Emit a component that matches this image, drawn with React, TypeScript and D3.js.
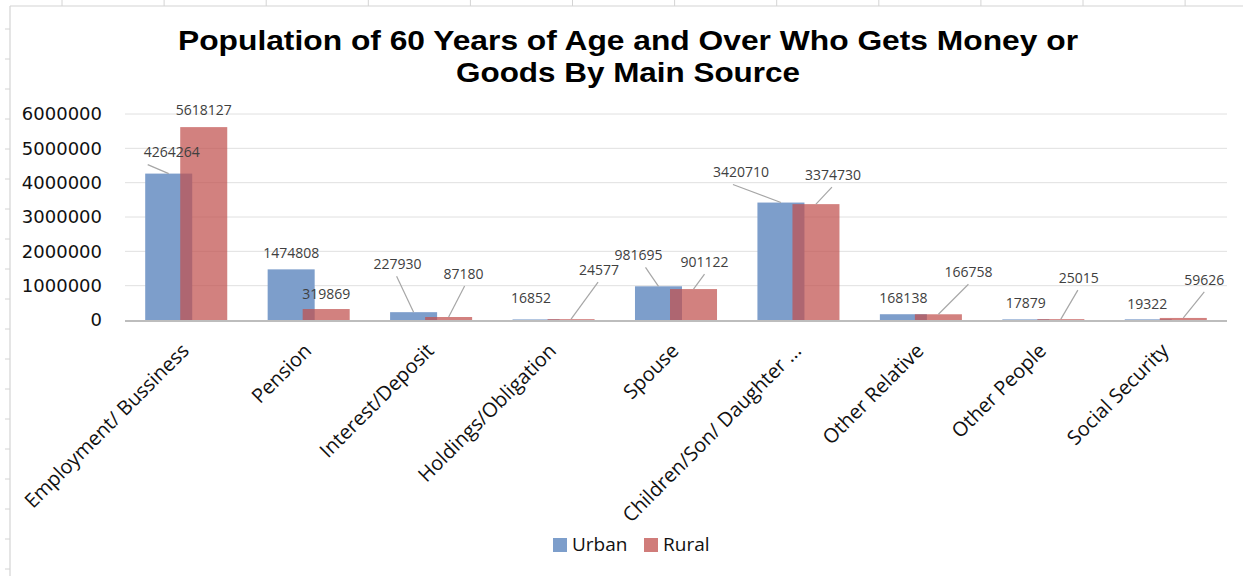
import React from "react";
import * as d3 from "d3";

const categories = [
  "Employment/ Bussiness",
  "Pension",
  "Interest/Deposit",
  "Holdings/Obligation",
  "Spouse",
  "Children/Son/ Daughter ...",
  "Other Relative",
  "Other People",
  "Social Security",
];
const urban = [4264264, 1474808, 227930, 16852, 981695, 3420710, 168138, 17879, 19322];
const rural = [5618127, 319869, 87180, 24577, 901122, 3374730, 166758, 25015, 59626];
const yTicks = [0, 1000000, 2000000, 3000000, 4000000, 5000000, 6000000];
const seriesNames = ["Urban", "Rural"];
const titleLines = [
  "Population of 60 Years of Age and Over Who Gets Money or",
  "Goods By Main Source",
];
// rendered widths of the title lines in the reference (px)
const titleWidths = [900, 344];

// label placement offsets (px) relative to bar top centre: [dx, dy, leaderStartDx | null]
const urbanLabelLayout: [number, number, number | null][] = [
  [3, -21, -24], [0, -16, null], [-16, -48, -1], [-5, -21, null], [-20, -31, 7],
  [-40, -30, -8], [0, -16, null], [0, -16, null], [-1, -15, null],
];
const ruralLabelLayout: [number, number, number | null][] = [
  [0, -17, null], [0, -15, null], [15, -43, 1], [28, -49, -1], [11, -27, 0],
  [17, -29, -1], [30, -42, 0], [18, -41, -1], [21, -38, 0],
];

const W = 1243;
const H = 576;
const colors = ["#7d9ecb", "rgba(192,80,77,0.72)"];
const legendColors = ["#7d9ecb", "#d07c7a"];

export default function App() {
  const x = d3.scaleBand<string>().domain(categories).range([125, 1227]).padding(0);
  const y = d3.scaleLinear().domain([0, 6000000]).range([320, 114]);
  const step = x.step();
  const bw = step * 0.384;
  const off = step * 0.143;

  const frameTopTicks = d3.range(62, W, 102.1);
  const frameLeftTicks = d3.range(29, H, 30);

  const series = [urban, rural];
  const layouts = [urbanLabelLayout, ruralLabelLayout];

  return (
    <svg
      width={W}
      height={H}
      style={{ position: "fixed", left: 0, top: 0, background: "#fff" }}
      fontFamily="'Open Sans', sans-serif"
    >
      <rect x={0} y={0} width={W} height={H} fill="#fff" />
      {/* spreadsheet frame */}
      <line x1={10} x2={W} y1={6} y2={6} stroke="#d4d4d4" strokeWidth={1.2} />
      <line x1={10} x2={10} y1={6} y2={H} stroke="#d4d4d4" strokeWidth={1.2} />
      {frameTopTicks.map((t, i) => (
        <line key={"tt" + i} x1={t} x2={t} y1={0} y2={6} stroke="#d4d4d4" />
      ))}
      {frameLeftTicks.map((t, i) => (
        <line key={"lt" + i} x1={5} x2={10} y1={t} y2={t} stroke="#d4d4d4" />
      ))}

      {/* title */}
      {titleLines.map((t, i) => (
        <text
          key={"title" + i}
          x={628 - titleWidths[i] / 2}
          y={50 + i * 32}
          textLength={titleWidths[i]}
          lengthAdjust="spacingAndGlyphs"
          fontFamily="'Liberation Sans', Arial, sans-serif"
          fontWeight="bold"
          fontSize={28}
          fill="#000"
        >
          {t}
        </text>
      ))}

      {/* gridlines */}
      {yTicks.slice(1).map((t) => (
        <line key={"g" + t} x1={125} x2={1227} y1={y(t)} y2={y(t)} stroke="#e0e0e0" strokeWidth={1} />
      ))}
      {/* y tick labels */}
      {yTicks.map((t) => (
        <text
          key={"yl" + t}
          x={102}
          y={y(t)}
          dy="0.36em"
          textAnchor="end"
          fontFamily="'DejaVu Sans', sans-serif"
          fontSize={18}
          fill="#111"
        >
          {t}
        </text>
      ))}

      {/* bars */}
      {series.map((vals, s) =>
        vals.map((v, i) => {
          const cx = (x(categories[i]) as number) + step / 2 + (s === 0 ? -off : off);
          return (
            <rect
              key={"b" + s + i}
              x={cx - bw / 2}
              y={y(v)}
              width={bw}
              height={y(0) - y(v)}
              fill={colors[s]}
            />
          );
        })
      )}

      {/* axis line */}
      <line x1={125} x2={1227} y1={y(0) + 1} y2={y(0) + 1} stroke="#bdbdbd" strokeWidth={2} />

      {/* data labels */}
      {series.map((vals, s) =>
        vals.map((v, i) => {
          const cx = (x(categories[i]) as number) + step / 2 + (s === 0 ? -off : off);
          const top = y(v);
          const [dx, dy, ld] = layouts[s][i];
          const lx = cx + dx;
          const ly = top + dy;
          return (
            <g key={"dl" + s + i}>
              {ld !== null && (
                <line x1={lx + ld} y1={ly + 12} x2={cx} y2={top} stroke="#a6a6a6" strokeWidth={1.2} />
              )}
              <text x={lx} y={ly} dy="0.35em" textAnchor="middle" fontSize={14} fill="#404040">
                {v}
              </text>
            </g>
          );
        })
      )}

      {/* category labels */}
      {categories.map((c) => {
        const cx = (x(c) as number) + step / 2;
        return (
          <text
            key={"c" + c}
            transform={`translate(${cx + 4},${y(0) + 32}) rotate(-45)`}
            textAnchor="end"
            fontSize={20}
            fill="#111"
          >
            {c}
          </text>
        );
      })}

      {/* legend */}
      {seriesNames.map((n, i) => {
        const lx = [553, 644][i];
        return (
          <g key={"lg" + n}>
            <rect x={lx} y={538} width={14} height={14} fill={legendColors[i]} />
            <text x={lx + 19} y={551} fontSize={19} fill="#111">
              {n}
            </text>
          </g>
        );
      })}
    </svg>
  );
}
